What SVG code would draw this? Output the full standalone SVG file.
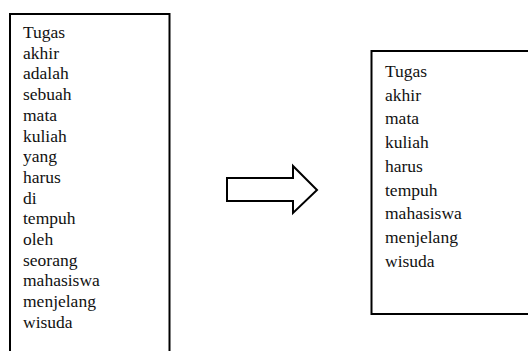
<svg xmlns="http://www.w3.org/2000/svg" width="528" height="351" viewBox="0 0 528 351">
<style>
.box{fill:#fff;stroke:#000;stroke-width:2}
.t{font-family:'Liberation Serif','Times New Roman','DejaVu Serif',serif;font-size:17.5px;fill:#111}
.arrow{fill:#fff;stroke:#000;stroke-width:2;stroke-linejoin:miter}
</style>
<rect width="528" height="351" fill="#fff"/>
<g id="left-box">
<rect class="box" x="10" y="14" width="159.5" height="345"/>
<g class="t" font-family="Liberation Serif, serif">
<text x="23" y="38">Tugas</text>
<text x="23" y="58.7">akhir</text>
<text x="23" y="79.4">adalah</text>
<text x="23" y="100.1">sebuah</text>
<text x="23" y="120.8">mata</text>
<text x="23" y="141.5">kuliah</text>
<text x="23" y="162.2">yang</text>
<text x="23" y="182.9">harus</text>
<text x="23" y="203.6">di</text>
<text x="23" y="224.3">tempuh</text>
<text x="23" y="245">oleh</text>
<text x="23" y="265.7">seorang</text>
<text x="23" y="286.4">mahasiswa</text>
<text x="23" y="307.1">menjelang</text>
<text x="23" y="327.8">wisuda</text>
</g>
</g>
<g id="connectors">
<polygon class="arrow" points="227,178 293,178 293,166 317,190 293,213 293,201 227,201"/>
</g>
<g id="right-box">
<rect class="box" x="371.5" y="51" width="170" height="263"/>
<g class="t" font-family="Liberation Serif, serif">
<text x="385" y="76.7">Tugas</text>
<text x="385" y="100.5">akhir</text>
<text x="385" y="124.2">mata</text>
<text x="385" y="148">kuliah</text>
<text x="385" y="171.7">harus</text>
<text x="385" y="195.5">tempuh</text>
<text x="385" y="219.2">mahasiswa</text>
<text x="385" y="243">menjelang</text>
<text x="385" y="266.7">wisuda</text>
</g>
</g>
</svg>
